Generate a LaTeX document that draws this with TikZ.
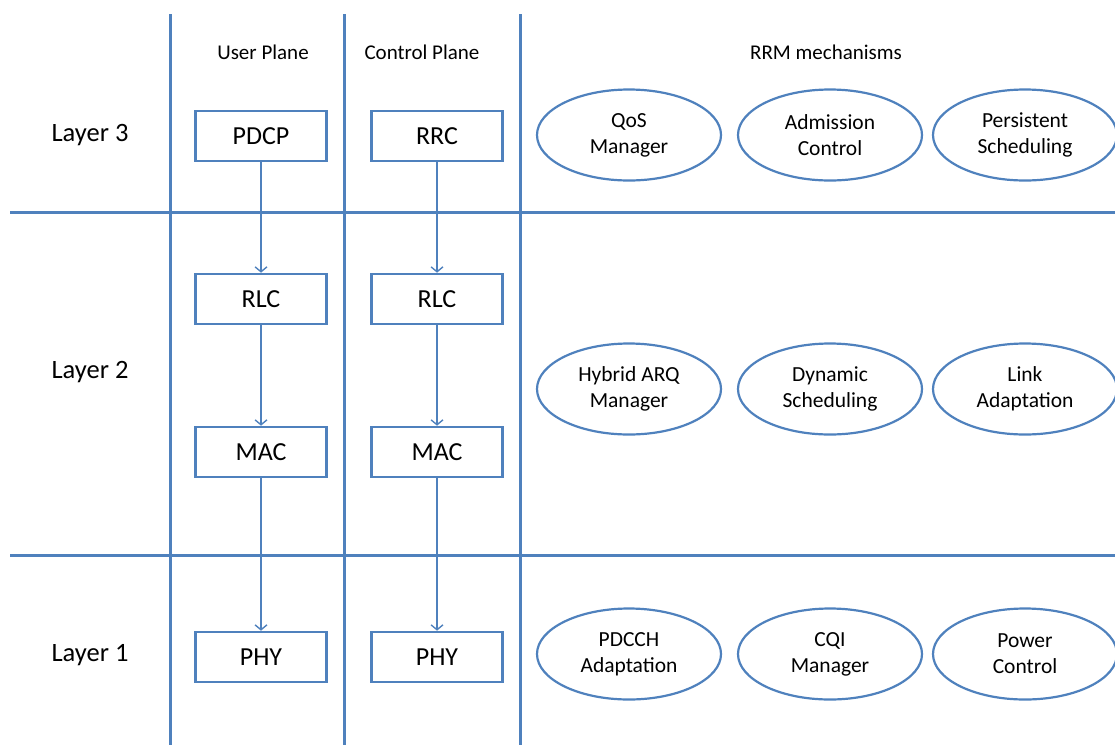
\documentclass[tikz,border=0pt]{standalone}
\usepackage{fontspec}
\setmainfont{Carlito}
\usetikzlibrary{arrows.meta,shapes.geometric}
\definecolor{gridblue}{HTML}{4F81BD}
\tikzset{
  grid/.style={draw=gridblue,line width=3pt},
  layerbox/.style={draw=gridblue,line width=2.6pt,minimum width=131pt,minimum height=50pt,font=\fontsize{26}{30}\selectfont},
  rrm/.style={draw=gridblue,line width=2.2pt,ellipse,minimum width=184pt,minimum height=91pt,inner sep=0pt,align=center,font=\fontsize{21.5}{26}\selectfont},
  flow/.style={draw=gridblue,line width=1.4pt,-{Straight Barb[length=5pt,width=12pt]}},
}
\begin{document}
\begin{tikzpicture}[x=1pt,y=-1pt]
  \useasboundingbox (0,0) rectangle (1115,745);
  % grid
  \draw[grid] (170,14) -- (170,745);
  \draw[grid] (344,14) -- (344,745);
  \draw[grid] (520,14) -- (520,745);
  \draw[grid] (10,212) -- (1115,212);
  \draw[grid] (10,555) -- (1115,555);
  % headers
  \node[font=\fontsize{21}{24}\selectfont] (UP) at (263,52) {User Plane};
  \node[font=\fontsize{21}{24}\selectfont] (CP) at (422,52) {Control Plane};
  \node[font=\fontsize{21}{24}\selectfont] (RRM) at (826,52) {RRM mechanisms};
  \node[font=\fontsize{26.5}{30}\selectfont] (L3) at (90,135) {Layer 3};
  \node[font=\fontsize{26.5}{30}\selectfont] (L2) at (90,372) {Layer 2};
  \node[font=\fontsize{26.5}{30}\selectfont] (L1) at (90,655) {Layer 1};
  % user plane
  \node[layerbox] (PDCP) at (261,136) {PDCP};
  \node[layerbox] (RLCu) at (261,299) {RLC};
  \node[layerbox] (MACu) at (261,452) {MAC};
  \node[layerbox] (PHYu) at (261,657) {PHY};
  % control plane
  \node[layerbox] (RRC) at (437,136) {RRC};
  \node[layerbox] (RLCc) at (437,299) {RLC};
  \node[layerbox] (MACc) at (437,452) {MAC};
  \node[layerbox] (PHYc) at (437,657) {PHY};
  \draw[flow] (PDCP) -- (RLCu);
  \draw[flow] (RLCu) -- (MACu);
  \draw[flow] (MACu) -- (PHYu);
  \draw[flow] (RRC) -- (RLCc);
  \draw[flow] (RLCc) -- (MACc);
  \draw[flow] (MACc) -- (PHYc);
  % RRM mechanisms
  \node[rrm] (QoS) at (629,135) {QoS\\Manager};
  \node[rrm] (AC) at (830,135) {Admission\\Control};
  \node[rrm] (PS) at (1025,135) {Persistent\\Scheduling};
  \node[rrm] (HARQ) at (629,389) {Hybrid ARQ\\Manager};
  \node[rrm] (DS) at (830,389) {Dynamic\\Scheduling};
  \node[rrm] (LA) at (1025,389) {Link\\Adaptation};
  \node[rrm] (PDCCH) at (629,654) {PDCCH\\Adaptation};
  \node[rrm] (CQI) at (830,654) {CQI\\Manager};
  \node[rrm] (PC) at (1025,654) {Power\\Control};
\end{tikzpicture}
\end{document}
